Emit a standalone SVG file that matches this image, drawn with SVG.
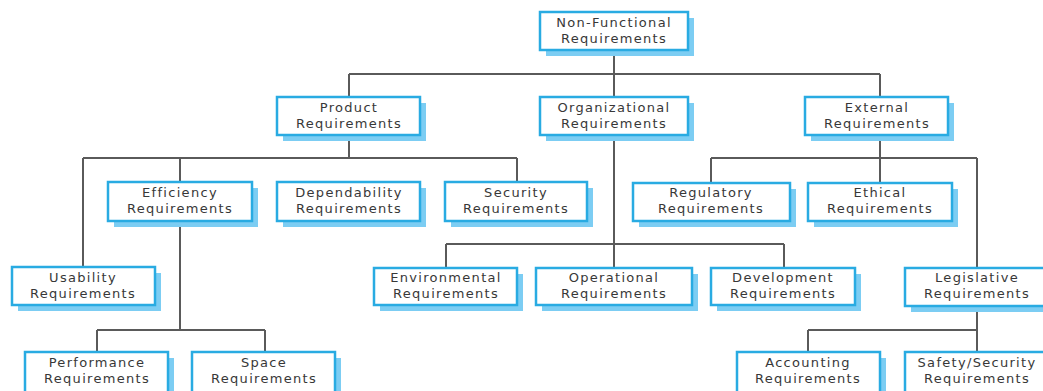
<svg xmlns="http://www.w3.org/2000/svg" width="1043" height="391" viewBox="0 0 1043 391">
<style>
.sh{fill:#7ccdf3}
.bx{fill:#fff;stroke:#29abe2;stroke-width:2.5}
.t{font-family:"DejaVu Sans","Liberation Sans",sans-serif;font-size:13px;fill:#383838;text-anchor:middle;letter-spacing:1.3px}
.c{stroke:#5a5a5a;stroke-width:2;fill:none}
</style>
<rect width="1043" height="391" fill="#fff"/>
<g id="connectors" class="c">
<path d="M614 50V74M349 74H880M349 74V97M614 74V97M880 74V97"/>
<path d="M349 135V158M83 158H517M83 158V267M180 158V182M517 158V182"/>
<path d="M180 221V330M97 330H265M97 330V352M265 330V352"/>
<path d="M614 135V268M446 244H784M446 244V268M784 244V268"/>
<path d="M880 135V158M711 158H977M711 158V183M880 158V183M977 158V268"/>
<path d="M977 306V352M808 330H977M808 330V352"/>
</g>
<g id="nfr"><rect class="sh" x="546" y="18" width="148" height="38"/><rect class="bx" x="540" y="12" width="148" height="38"/><text class="t" x="614" y="27">Non-Functional<tspan x="614" dy="15.5">Requirements</tspan></text></g>
<g id="product"><rect class="sh" x="283" y="103" width="143" height="38"/><rect class="bx" x="277" y="97" width="143" height="38"/><text class="t" x="349" y="112">Product<tspan x="349" dy="15.5">Requirements</tspan></text></g>
<g id="organizational"><rect class="sh" x="546" y="103" width="148" height="38"/><rect class="bx" x="540" y="97" width="148" height="38"/><text class="t" x="614" y="112">Organizational<tspan x="614" dy="15.5">Requirements</tspan></text></g>
<g id="external"><rect class="sh" x="811" y="103" width="143" height="38"/><rect class="bx" x="805" y="97" width="143" height="38"/><text class="t" x="877" y="112">External<tspan x="877" dy="15.5">Requirements</tspan></text></g>
<g id="efficiency"><rect class="sh" x="114" y="188" width="144" height="39"/><rect class="bx" x="108" y="182" width="144" height="39"/><text class="t" x="180" y="197">Efficiency<tspan x="180" dy="15.5">Requirements</tspan></text></g>
<g id="dependability"><rect class="sh" x="283" y="188" width="143" height="39"/><rect class="bx" x="277" y="182" width="143" height="39"/><text class="t" x="349" y="197">Dependability<tspan x="349" dy="15.5">Requirements</tspan></text></g>
<g id="security"><rect class="sh" x="451" y="188" width="142" height="39"/><rect class="bx" x="445" y="182" width="142" height="39"/><text class="t" x="516" y="197">Security<tspan x="516" dy="15.5">Requirements</tspan></text></g>
<g id="regulatory"><rect class="sh" x="639" y="189" width="157" height="38"/><rect class="bx" x="633" y="183" width="157" height="38"/><text class="t" x="711" y="197">Regulatory<tspan x="711" dy="15.5">Requirements</tspan></text></g>
<g id="ethical"><rect class="sh" x="814" y="189" width="144" height="38"/><rect class="bx" x="808" y="183" width="144" height="38"/><text class="t" x="880" y="197">Ethical<tspan x="880" dy="15.5">Requirements</tspan></text></g>
<g id="usability"><rect class="sh" x="18" y="273" width="143" height="38"/><rect class="bx" x="12" y="267" width="143" height="38"/><text class="t" x="83" y="282">Usability<tspan x="83" dy="15.5">Requirements</tspan></text></g>
<g id="environmental"><rect class="sh" x="380" y="274" width="143" height="37"/><rect class="bx" x="374" y="268" width="143" height="37"/><text class="t" x="446" y="282">Environmental<tspan x="446" dy="15.5">Requirements</tspan></text></g>
<g id="operational"><rect class="sh" x="542" y="274" width="156" height="37"/><rect class="bx" x="536" y="268" width="156" height="37"/><text class="t" x="614" y="282">Operational<tspan x="614" dy="15.5">Requirements</tspan></text></g>
<g id="development"><rect class="sh" x="717" y="274" width="144" height="37"/><rect class="bx" x="711" y="268" width="144" height="37"/><text class="t" x="783" y="282">Development<tspan x="783" dy="15.5">Requirements</tspan></text></g>
<g id="legislative"><rect class="sh" x="911" y="274" width="144" height="38"/><rect class="bx" x="905" y="268" width="144" height="38"/><text class="t" x="977" y="282">Legislative<tspan x="977" dy="15.5">Requirements</tspan></text></g>
<g id="performance"><rect class="sh" x="31" y="358" width="143" height="45"/><rect class="bx" x="25" y="352" width="143" height="45"/><text class="t" x="97" y="367">Performance<tspan x="97" dy="15.5">Requirements</tspan></text></g>
<g id="space"><rect class="sh" x="198" y="358" width="143" height="45"/><rect class="bx" x="192" y="352" width="143" height="45"/><text class="t" x="264" y="367">Space<tspan x="264" dy="15.5">Requirements</tspan></text></g>
<g id="accounting"><rect class="sh" x="743" y="358" width="143" height="45"/><rect class="bx" x="737" y="352" width="143" height="45"/><text class="t" x="808" y="367">Accounting<tspan x="808" dy="15.5">Requirements</tspan></text></g>
<g id="safety"><rect class="sh" x="911" y="358" width="144" height="45"/><rect class="bx" x="905" y="352" width="144" height="45"/><text class="t" x="977" y="367">Safety/Security<tspan x="977" dy="15.5">Requirements</tspan></text></g>
</svg>
